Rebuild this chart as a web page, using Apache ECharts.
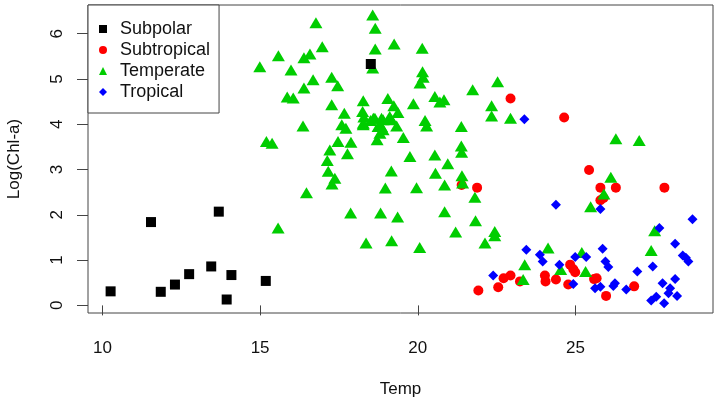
<!DOCTYPE html>
<html>
<head>
<meta charset="utf-8">
<script src="https://cdn.jsdelivr.net/npm/echarts@6/dist/echarts.min.js"></script>
<style>html,body{margin:0;padding:0;background:#fff}#c{width:721px;height:405px}</style>
</head>
<body>
<div id="c"></div>
<script>
var xTicks = [10, 15, 20, 25];
var yTicks = [0, 1, 2, 3, 4, 5, 6];
var seriesNames = ['Subpolar', 'Subtropical', 'Temperate', 'Tropical'];

var subpolar = [
  [10.26, 0.31], [11.54, 1.84], [11.85, 0.30], [12.30, 0.46], [12.75, 0.69],
  [13.45, 0.86], [13.69, 2.07], [13.94, 0.13], [14.09, 0.67], [15.18, 0.54],
  [18.51, 5.33]
];

var subtropical = [
  [21.39, 2.66], [21.88, 2.60], [21.92, 0.33], [22.55, 0.40], [22.72, 0.60],
  [22.94, 0.66], [23.24, 0.53], [22.94, 4.57], [24.64, 4.15], [24.03, 0.66],
  [24.05, 0.53], [24.38, 0.57], [24.83, 0.90], [24.93, 0.80], [24.99, 0.73],
  [24.77, 0.46], [25.43, 2.99], [25.79, 2.60], [26.28, 2.60], [27.82, 2.60],
  [25.79, 2.32], [25.89, 2.37], [25.59, 0.58], [25.67, 0.60], [25.97, 0.21],
  [26.86, 0.42]
];

var temperate = [
  [18.57, 6.41], [16.77, 6.24], [18.65, 6.12], [19.25, 5.77], [18.65, 5.66],
  [20.14, 5.68], [16.97, 5.71], [15.58, 5.51], [16.58, 5.55], [16.39, 5.47],
  [14.99, 5.27], [15.98, 5.20], [18.57, 5.24], [20.15, 5.16], [20.17, 5.04],
  [20.07, 4.91], [17.27, 5.04], [16.68, 4.98], [17.46, 4.85], [16.39, 4.80],
  [15.86, 4.60], [16.05, 4.58], [17.27, 4.43], [18.27, 4.52], [19.05, 4.57],
  [19.24, 4.41], [19.86, 4.45], [20.54, 4.61], [20.83, 4.54], [20.70, 4.49],
  [21.74, 4.76], [17.67, 4.24], [18.25, 4.28], [18.29, 4.16], [19.37, 4.26],
  [17.59, 3.99], [18.27, 3.99], [18.64, 4.13], [18.90, 4.10], [19.17, 4.10],
  [18.50, 4.08], [19.33, 3.96], [18.85, 3.95], [20.23, 4.08], [20.28, 3.96],
  [21.38, 3.95], [16.36, 3.96], [17.72, 3.91], [18.80, 3.80], [19.54, 3.71],
  [18.71, 3.66], [15.20, 3.62], [15.38, 3.58], [17.47, 3.62], [17.88, 3.60],
  [21.38, 3.52], [21.39, 3.38], [17.21, 3.43], [19.75, 3.29], [20.54, 3.32],
  [17.13, 3.20], [17.77, 3.35], [20.95, 3.13], [17.16, 2.96], [17.37, 2.81],
  [17.28, 2.68], [19.16, 2.97], [20.56, 2.92], [21.40, 2.86], [21.42, 2.70],
  [16.47, 2.49], [18.97, 2.59], [19.96, 2.60], [20.85, 2.66], [21.81, 2.39],
  [17.87, 2.04], [18.82, 2.04], [19.36, 1.95], [20.85, 2.07], [21.83, 1.87],
  [15.57, 1.71], [21.20, 1.62], [18.36, 1.38], [19.17, 1.43], [20.06, 1.28],
  [22.53, 4.94], [22.34, 4.41], [22.34, 4.18], [22.94, 4.13], [26.28, 3.68],
  [27.02, 3.64], [26.12, 2.83], [25.90, 2.46], [25.48, 2.18], [22.44, 1.63],
  [22.44, 1.54], [22.13, 1.38], [27.51, 1.65], [27.40, 1.21], [24.13, 1.27],
  [25.20, 1.17], [23.39, 0.90], [24.53, 0.79], [25.32, 0.75], [23.34, 0.57],
  [18.27, 4.02], [18.59, 4.13], [18.85, 4.13], [19.11, 4.17], [18.74, 3.95],
  [18.90, 3.88]
];

var tropical = [
  [23.38, 4.11], [24.38, 2.22], [25.79, 2.13], [28.71, 1.90], [27.66, 1.71],
  [28.16, 1.36], [23.44, 1.23], [23.87, 1.12], [23.96, 0.97], [25.86, 1.25],
  [24.99, 1.07], [25.34, 1.07], [25.95, 0.97], [26.04, 0.85], [24.49, 0.90],
  [22.39, 0.66], [24.93, 0.47], [25.62, 0.38], [25.79, 0.41], [26.20, 0.43],
  [26.25, 0.49], [26.61, 0.35], [26.96, 0.75], [27.45, 0.86], [27.76, 0.49],
  [28.16, 0.58], [28.00, 0.38], [27.95, 0.27], [28.22, 0.21], [27.40, 0.11],
  [27.56, 0.19], [27.81, 0.05], [28.40, 1.10], [28.58, 0.97], [28.50, 1.05]
];

var FONT = '"Liberation Sans", Arial, sans-serif';
var chart = echarts.init(document.getElementById('c'), null, {renderer: 'canvas'});
chart.setOption({
  animation: false,
  backgroundColor: '#ffffff',
  textStyle: {fontFamily: FONT},
  grid: {
    left: 88, right: 8, top: 5, bottom: 92,
    containLabel: false, outerBoundsMode: 'none',
    show: true, borderColor: '#444', borderWidth: 1, backgroundColor: 'transparent'
  },
  legend: {
    data: seriesNames,
    orient: 'vertical',
    left: 88, top: 5,
    padding: [15, 9, 12, 11],
    itemWidth: 8, itemHeight: 8, itemGap: 3,
    borderColor: '#444', borderWidth: 1,
    backgroundColor: '#fff',
    textStyle: {fontSize: 18, color: '#111', fontFamily: FONT, padding: [0, 0, 0, 8]}
  },
  xAxis: {
    type: 'value', min: 9.543, max: 29.36,
    name: 'Temp', nameLocation: 'middle', nameGap: 68,
    nameTextStyle: {fontSize: 17, color: '#111', fontFamily: FONT},
    axisLine: {show: false},
    splitLine: {show: false},
    axisTick: {show: true, length: 10, customValues: xTicks, lineStyle: {color: '#444'}},
    axisLabel: {customValues: xTicks, fontSize: 17, color: '#111', margin: 27, fontFamily: FONT}
  },
  yAxis: {
    type: 'value', min: -0.168, max: 6.633,
    name: 'Log(Chl-a)', nameLocation: 'middle', nameGap: 65, nameRotate: 90,
    nameTextStyle: {fontSize: 17, color: '#111', fontFamily: FONT},
    axisLine: {show: false},
    splitLine: {show: false},
    axisTick: {show: true, length: 11, customValues: yTicks, lineStyle: {color: '#444'}},
    axisLabel: {customValues: yTicks, fontSize: 17, color: '#111', margin: 22, rotate: 90, fontFamily: FONT}
  },
  series: [
    {name: 'Subtropical', type: 'scatter', data: subtropical, symbol: 'circle', symbolSize: 10,
     itemStyle: {color: '#ff0000', opacity: 1}, z: 2},
    {name: 'Temperate', type: 'scatter', data: temperate, symbol: 'triangle', symbolSize: [13, 11],
     itemStyle: {color: '#00cd00', opacity: 1}, z: 3},
    {name: 'Tropical', type: 'scatter', data: tropical, symbol: 'diamond', symbolSize: 10,
     itemStyle: {color: '#0000ff', opacity: 1}, z: 4},
    {name: 'Subpolar', type: 'scatter', data: subpolar, symbol: 'rect', symbolSize: 10,
     itemStyle: {color: '#000000', opacity: 1}, z: 5}
  ]
});
</script>
</body>
</html>
